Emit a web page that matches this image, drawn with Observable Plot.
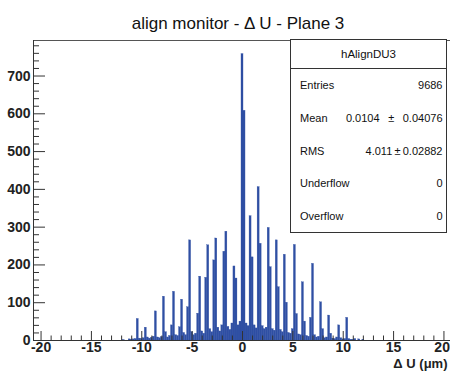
<!DOCTYPE html>
<html><head><meta charset="utf-8">
<script src="https://cdn.jsdelivr.net/npm/d3@7"></script>
<script src="https://cdn.jsdelivr.net/npm/@observablehq/plot@0.6"></script>
<style>
html,body{margin:0;padding:0;background:#fff;}
#wrap{position:relative;width:450px;height:374px;overflow:hidden;font-family:"Liberation Sans",Arial,Helvetica,sans-serif;}
#stats{position:absolute;left:290px;top:39px;width:157px;height:194px;box-sizing:border-box;border:1px solid #333;background:#fff;color:#111;}
#stats .hdr{height:28px;line-height:29px;text-align:center;font-size:11.5px;border-bottom:1px solid #333;}
#stats .row{height:32.8px;line-height:32.8px;display:flex;justify-content:space-between;padding-left:9px;padding-right:3.5px;font-size:11px;white-space:pre;}
</style></head><body><div id="wrap"></div>
<script>
const title = "align monitor - \u0394 U - Plane 3";
const xLabel = "\u0394 U (\u03bcm)";
const histName = "hAlignDU3";
const statLabels = ["Entries", "Mean", "RMS", "Underflow", "Overflow"];
const statValues = ["9686", "0.0104 \u2002\u00b1\u2002 0.04076", "4.011\u2009\u00b1\u20090.02882", "0", "0"];

const binWidth = 0.2;
const binCenters = [
 -12.0,-11.8,-11.6,-11.4,-11.2,-11.0,
 -10.8,-10.6,-10.4,-10.2,-10.0,-9.8,-9.6,-9.4,-9.2,-9.0,-8.8,-8.6,-8.4,-8.2,-8.0,
 -7.8,-7.6,-7.4,-7.2,-7.0,-6.8,-6.6,-6.4,-6.2,-6.0,-5.8,-5.6,-5.4,-5.2,-5.0,
 -4.8,-4.6,-4.4,-4.2,-4.0,-3.8,-3.6,-3.4,-3.2,-3.0,-2.8,-2.6,-2.4,-2.2,-2.0,
 -1.8,-1.6,-1.4,-1.2,-1.0,-0.8,-0.6,-0.4,-0.2,0.0,
 0.2,0.4,0.6,0.8,1.0,1.2,1.4,1.6,1.8,2.0,2.2,2.4,2.6,2.8,3.0,3.2,3.4,3.6,3.8,4.0,
 4.2,4.4,4.6,4.8,5.0,5.2,5.4,5.6,5.8,6.0,6.2,6.4,6.6,6.8,7.0,7.2,7.4,7.6,7.8,8.0,
 8.2,8.4,8.6,8.8,9.0,9.2,9.4,9.6,9.8,10.0,10.2,10.4,10.6,10.8,
 11.0,11.2,11.4,11.6,11.8,12.0
];
const binCounts = [
 0,1,0,0,3,2,
 3,4,57,5,4,6,34,8,5,7,10,77,8,6,9,
 116,22,8,12,40,129,14,12,35,108,20,14,88,265,22,
 14,18,71,169,24,18,166,252,30,22,212,270,34,24,40,
 235,288,36,28,45,196,164,40,50,758,
 608,45,38,329,220,40,32,406,256,38,30,34,298,194,30,26,265,141,28,22,
 227,100,20,18,30,253,70,16,14,154,50,12,10,60,203,14,8,10,101,30,
 6,8,66,18,5,4,8,40,6,3,4,60,4,2,
 2,4,0,3,0,2
];

const xDomain = [-20.75, 20.75];
const yDomain = [0, 794];
const xMajorTicks = [-20,-15,-10,-5,0,5,10,15,20];
const xMinorTicks = [-19,-18,-17,-16,-14,-13,-12,-11,-9,-8,-7,-6,-4,-3,-2,-1,1,2,3,4,6,7,8,9,11,12,13,14,16,17,18,19];
const yMajorTicks = [0,100,200,300,400,500,600,700];
const yMinorTicks = [20,40,60,80,120,140,160,180,220,240,260,280,320,340,360,380,420,440,460,480,520,540,560,580,620,640,660,680,720,740,760,780];

const histColor = "#2f4fa3";
const axisColor = "#333";
const W = 450, H = 374, mL = 33, mT = 40, mB = 34, mR = 0;
const frameW = W - mL - mR, frameH = H - mT - mB;

const bins = binCenters.map((c, i) => ({x: c, n: binCounts[i]}));
const font = "Liberation Sans, Arial, Helvetica, sans-serif";
const xLabelTicks = xMajorTicks.slice(0, -1);
const xLastTick = xMajorTicks.slice(-1);

const chart = Plot.plot({
  width: W, height: H,
  marginLeft: mL, marginTop: mT, marginBottom: mB, marginRight: mR,
  style: {fontFamily: font, background: "white", overflow: "hidden"},
  x: {domain: xDomain, range: [mL, 451], axis: null},
  y: {domain: yDomain, range: [H - mB, mT], axis: null},
  marks: [
    Plot.rectY(bins, {x1: d => d.x - binWidth/2, x2: d => d.x + binWidth/2, y1: 0, y2: "n", fill: histColor, stroke: histColor, strokeWidth: 0.3}),
    Plot.ruleY([yDomain[1]], {stroke: "#555"}),
    Plot.ruleY([0], {stroke: axisColor}),
    Plot.ruleX([xDomain[0]], {stroke: axisColor}),
    Plot.tickX(xMajorTicks, {x: d => d, insetTop: frameH - 9, stroke: axisColor}),
    Plot.tickX(xMinorTicks, {x: d => d, insetTop: frameH - 4.5, stroke: axisColor}),
    Plot.tickY(yMajorTicks, {y: d => d, insetRight: frameW - 12, stroke: axisColor}),
    Plot.tickY(yMinorTicks, {y: d => d, insetRight: frameW - 6, stroke: axisColor}),
    Plot.text(xLabelTicks, {x: d => d, frameAnchor: "bottom", lineAnchor: "top", dy: 2, text: d => String(d), fontWeight: "bold", fontSize: 14, fill: "#222"}),
    Plot.text(xLastTick, {x: d => d, frameAnchor: "bottom", lineAnchor: "top", textAnchor: "end", dx: 6, dy: 2, text: d => String(d), fontWeight: "bold", fontSize: 14, fill: "#222"}),
    Plot.text(yMajorTicks, {y: d => d, frameAnchor: "left", textAnchor: "end", dx: -3, text: d => String(d), fontWeight: "bold", fontSize: 14, fill: "#222"}),
    Plot.text([title], {frameAnchor: "top", dx: -4, dy: -24, text: d => d, fontSize: 17, fill: "#111"}),
    Plot.text([xLabel], {frameAnchor: "bottom-right", textAnchor: "end", dx: -3, dy: 27, text: d => d, fontWeight: "bold", fontSize: 13, fill: "#222"})
  ]
});
const wrap = document.getElementById("wrap");
wrap.appendChild(chart);

const box = document.createElement("div");
box.id = "stats";
const hdr = document.createElement("div");
hdr.className = "hdr";
hdr.textContent = histName;
box.appendChild(hdr);
statLabels.forEach((lab, i) => {
  const r = document.createElement("div");
  r.className = "row";
  const a = document.createElement("span"); a.textContent = lab;
  const b = document.createElement("span"); b.textContent = statValues[i];
  r.appendChild(a); r.appendChild(b);
  box.appendChild(r);
});
wrap.appendChild(box);
</script>
</body></html>
